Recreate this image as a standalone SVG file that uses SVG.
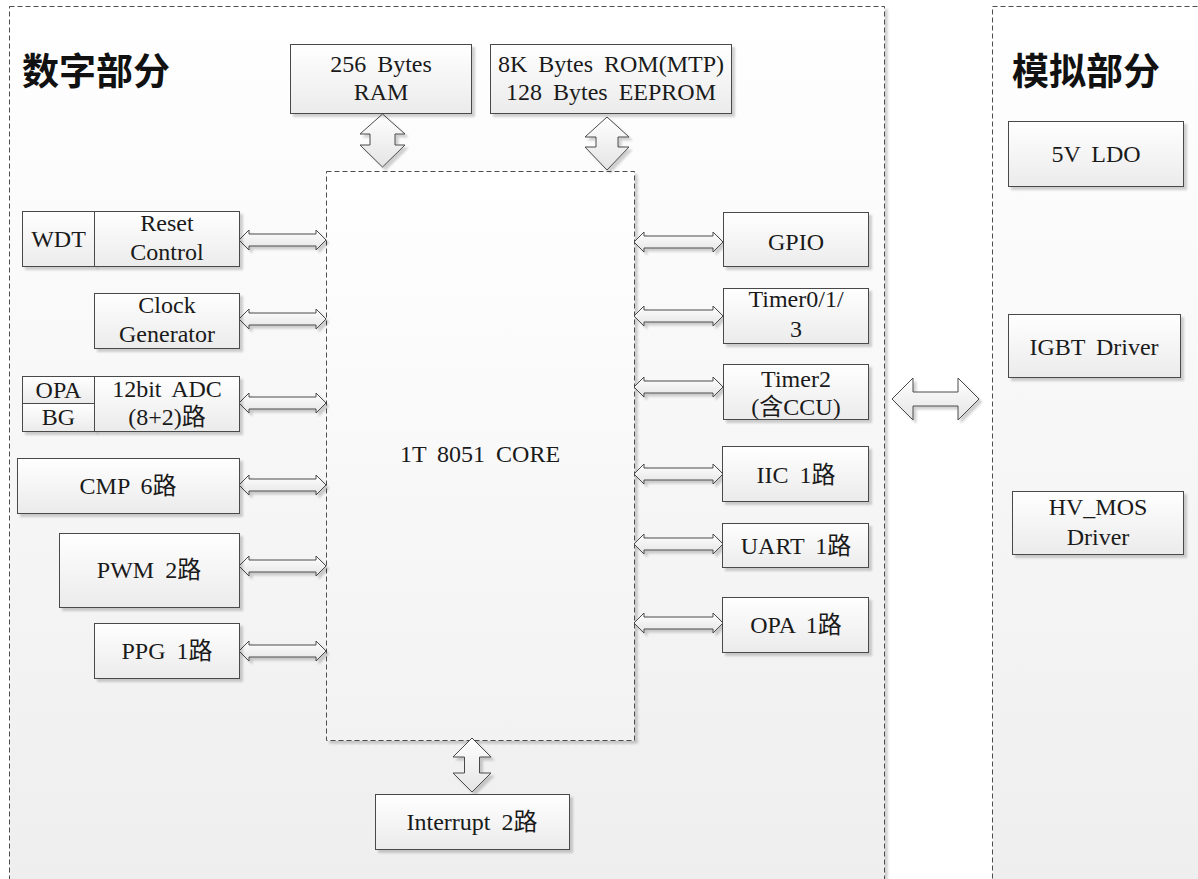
<svg xmlns="http://www.w3.org/2000/svg" width="1198" height="879" viewBox="0 0 1198 879">
<style>
.panel{stroke:#4d4d4d;stroke-width:1;stroke-dasharray:5,3;fill:url(#pg)}
.core{stroke:#4d4d4d;stroke-width:1;stroke-dasharray:5,3;fill:url(#cg)}
.box{stroke:#4a4a4a;stroke-width:1;fill:url(#bg)}
.arr{stroke:#4a4a4a;stroke-width:1;fill:url(#ag)}
.t{font-family:"Liberation Serif","Noto Sans CJK SC",serif;font-size:24px;fill:#1a1a1a;text-anchor:middle;word-spacing:5px}
.title{font-family:"Noto Sans CJK SC","Noto Sans CJK JP",sans-serif;font-size:37px;font-weight:bold;fill:#111}
</style>
<defs>
<linearGradient id="pg" x1="0" y1="0" x2="0" y2="1"><stop offset="0" stop-color="#ffffff"/><stop offset="1" stop-color="#eeeeee"/></linearGradient>
<linearGradient id="cg" x1="0" y1="0" x2="0" y2="1"><stop offset="0" stop-color="#ffffff"/><stop offset="1" stop-color="#f2f2f2"/></linearGradient>
<linearGradient id="bg" x1="0" y1="0" x2="0" y2="1"><stop offset="0" stop-color="#ffffff"/><stop offset="1" stop-color="#ebebeb"/></linearGradient>
<linearGradient id="ag" x1="0" y1="0" x2="0" y2="1"><stop offset="0" stop-color="#ffffff"/><stop offset="1" stop-color="#e4e4e4"/></linearGradient>
<filter id="sh" x="-10%" y="-10%" width="130%" height="130%"><feDropShadow dx="3" dy="3" stdDeviation="1.2" flood-color="#000" flood-opacity="0.18"/></filter>
</defs>
<rect width="1198" height="879" fill="#ffffff"/>
<g id="digital-panel">
<rect class="panel" x="9.5" y="6.5" width="875" height="890" filter="url(#sh)"/>
<text class="title" x="22" y="85">数字部分</text>
</g>
<g id="analog-panel">
<rect class="panel" x="992.5" y="6.5" width="230" height="890" filter="url(#sh)"/>
<text class="title" x="1012" y="85">模拟部分</text>
</g>
<g id="core">
<rect class="core" x="326.5" y="171.5" width="308" height="569" filter="url(#sh)"/>
<text class="t" x="480" y="462">1T 8051 CORE</text>
</g>
<g id="connectors" filter="url(#sh)">
<path class="arr" d="M382.5,114 L405,134 L395,134 L395,145 L405,145 L382.5,167 L360,145 L370,145 L370,134 L360,134 Z"/>
<path class="arr" d="M607,117 L629,137 L618,137 L618,147 L629,147 L607,170 L585,147 L596,147 L596,137 L585,137 Z"/>
<path class="arr" d="M472,738 L491,757 L479.5,757 L479.5,773 L491,773 L472,792 L453,773 L464.5,773 L464.5,757 L453,757 Z"/>
<path class="arr" d="M892,399 L913,378 L913,392 L958,392 L958,378 L979,399 L958,420 L958,406 L913,406 L913,420 Z"/>
<path class="arr" d="M239,240 L249,230 L249,234 L316,234 L316,230 L326,240 L316,250 L316,246 L249,246 L249,250 Z"/>
<path class="arr" d="M239,319 L249,309 L249,313 L316,313 L316,309 L326,319 L316,329 L316,325 L249,325 L249,329 Z"/>
<path class="arr" d="M239,403 L249,393 L249,397 L316,397 L316,393 L326,403 L316,413 L316,409 L249,409 L249,413 Z"/>
<path class="arr" d="M239,485 L249,475 L249,479 L316,479 L316,475 L326,485 L316,495 L316,491 L249,491 L249,495 Z"/>
<path class="arr" d="M239,566 L249,556 L249,560 L316,560 L316,556 L326,566 L316,576 L316,572 L249,572 L249,576 Z"/>
<path class="arr" d="M239,651 L249,641 L249,645 L316,645 L316,641 L326,651 L316,661 L316,657 L249,657 L249,661 Z"/>
<path class="arr" d="M634,242 L644,232 L644,236 L713,236 L713,232 L723,242 L713,252 L713,248 L644,248 L644,252 Z"/>
<path class="arr" d="M634,316 L644,306 L644,310 L713,310 L713,306 L723,316 L713,326 L713,322 L644,322 L644,326 Z"/>
<path class="arr" d="M634,387 L644,377 L644,381 L713,381 L713,377 L723,387 L713,397 L713,393 L644,393 L644,397 Z"/>
<path class="arr" d="M634,474 L644,464 L644,468 L713,468 L713,464 L723,474 L713,484 L713,480 L644,480 L644,484 Z"/>
<path class="arr" d="M634,544 L644,534 L644,538 L713,538 L713,534 L723,544 L713,554 L713,550 L644,550 L644,554 Z"/>
<path class="arr" d="M634,623 L644,613 L644,617 L713,617 L713,613 L723,623 L713,633 L713,629 L644,629 L644,633 Z"/>
</g>
<g id="ram"><rect class="box" x="290.5" y="44.5" width="181" height="69" filter="url(#sh)"/><text class="t" x="381" y="72">256 Bytes</text><text class="t" x="381" y="100">RAM</text></g>
<g id="rom"><rect class="box" x="490.5" y="44.5" width="241" height="69" filter="url(#sh)"/><text class="t" x="611" y="72">8K Bytes ROM(MTP)</text><text class="t" x="611" y="100">128 Bytes EEPROM</text></g>
<g id="wdt"><rect class="box" x="22.5" y="211.5" width="72" height="55" filter="url(#sh)"/><text class="t" x="58.5" y="247">WDT</text></g>
<g id="reset"><rect class="box" x="94.5" y="211.5" width="145" height="55" filter="url(#sh)"/><text class="t" x="167" y="231">Reset</text><text class="t" x="167" y="260">Control</text></g>
<g id="clock"><rect class="box" x="94.5" y="293.5" width="145" height="55" filter="url(#sh)"/><text class="t" x="167" y="313">Clock</text><text class="t" x="167" y="342">Generator</text></g>
<g id="opa-bg"><rect class="box" x="22.5" y="376.5" width="72" height="27" filter="url(#sh)"/><text class="t" x="58.5" y="398">OPA</text><rect class="box" x="22.5" y="403.5" width="72" height="28" filter="url(#sh)"/><text class="t" x="58.5" y="425">BG</text></g>
<g id="adc"><rect class="box" x="94.5" y="376.5" width="145" height="55" filter="url(#sh)"/><text class="t" x="167" y="397">12bit ADC</text><text class="t" x="167" y="425">(8+2)路</text></g>
<g id="cmp"><rect class="box" x="17.5" y="458.5" width="222" height="55" filter="url(#sh)"/><text class="t" x="128" y="494">CMP 6路</text></g>
<g id="pwm"><rect class="box" x="59.5" y="533.5" width="180" height="74" filter="url(#sh)"/><text class="t" x="149" y="578">PWM 2路</text></g>
<g id="ppg"><rect class="box" x="94.5" y="623.5" width="145" height="55" filter="url(#sh)"/><text class="t" x="167" y="659">PPG 1路</text></g>
<g id="gpio"><rect class="box" x="723.5" y="212.5" width="145" height="54" filter="url(#sh)"/><text class="t" x="796" y="250">GPIO</text></g>
<g id="timer013"><rect class="box" x="723.5" y="288.5" width="145" height="55" filter="url(#sh)"/><text class="t" x="796" y="307">Timer0/1/</text><text class="t" x="796" y="337">3</text></g>
<g id="timer2"><rect class="box" x="723.5" y="364.5" width="145" height="55" filter="url(#sh)"/><text class="t" x="796" y="387">Timer2</text><text class="t" x="796" y="415">(含CCU)</text></g>
<g id="iic"><rect class="box" x="722.5" y="446.5" width="146" height="55" filter="url(#sh)"/><text class="t" x="796" y="483">IIC 1路</text></g>
<g id="uart"><rect class="box" x="722.5" y="523.5" width="146" height="44" filter="url(#sh)"/><text class="t" x="796" y="554">UART 1路</text></g>
<g id="opa1"><rect class="box" x="722.5" y="597.5" width="146" height="55" filter="url(#sh)"/><text class="t" x="796" y="633">OPA 1路</text></g>
<g id="interrupt"><rect class="box" x="375.5" y="794.5" width="194" height="55" filter="url(#sh)"/><text class="t" x="472" y="830">Interrupt 2路</text></g>
<g id="ldo"><rect class="box" x="1008.5" y="121.5" width="175" height="65" filter="url(#sh)"/><text class="t" x="1096" y="162">5V LDO</text></g>
<g id="igbt"><rect class="box" x="1008.5" y="314.5" width="172" height="63" filter="url(#sh)"/><text class="t" x="1094" y="355">IGBT Driver</text></g>
<g id="hvmos"><rect class="box" x="1012.5" y="491.5" width="171" height="63" filter="url(#sh)"/><text class="t" x="1098" y="515">HV_MOS</text><text class="t" x="1098" y="545">Driver</text></g>
</svg>
